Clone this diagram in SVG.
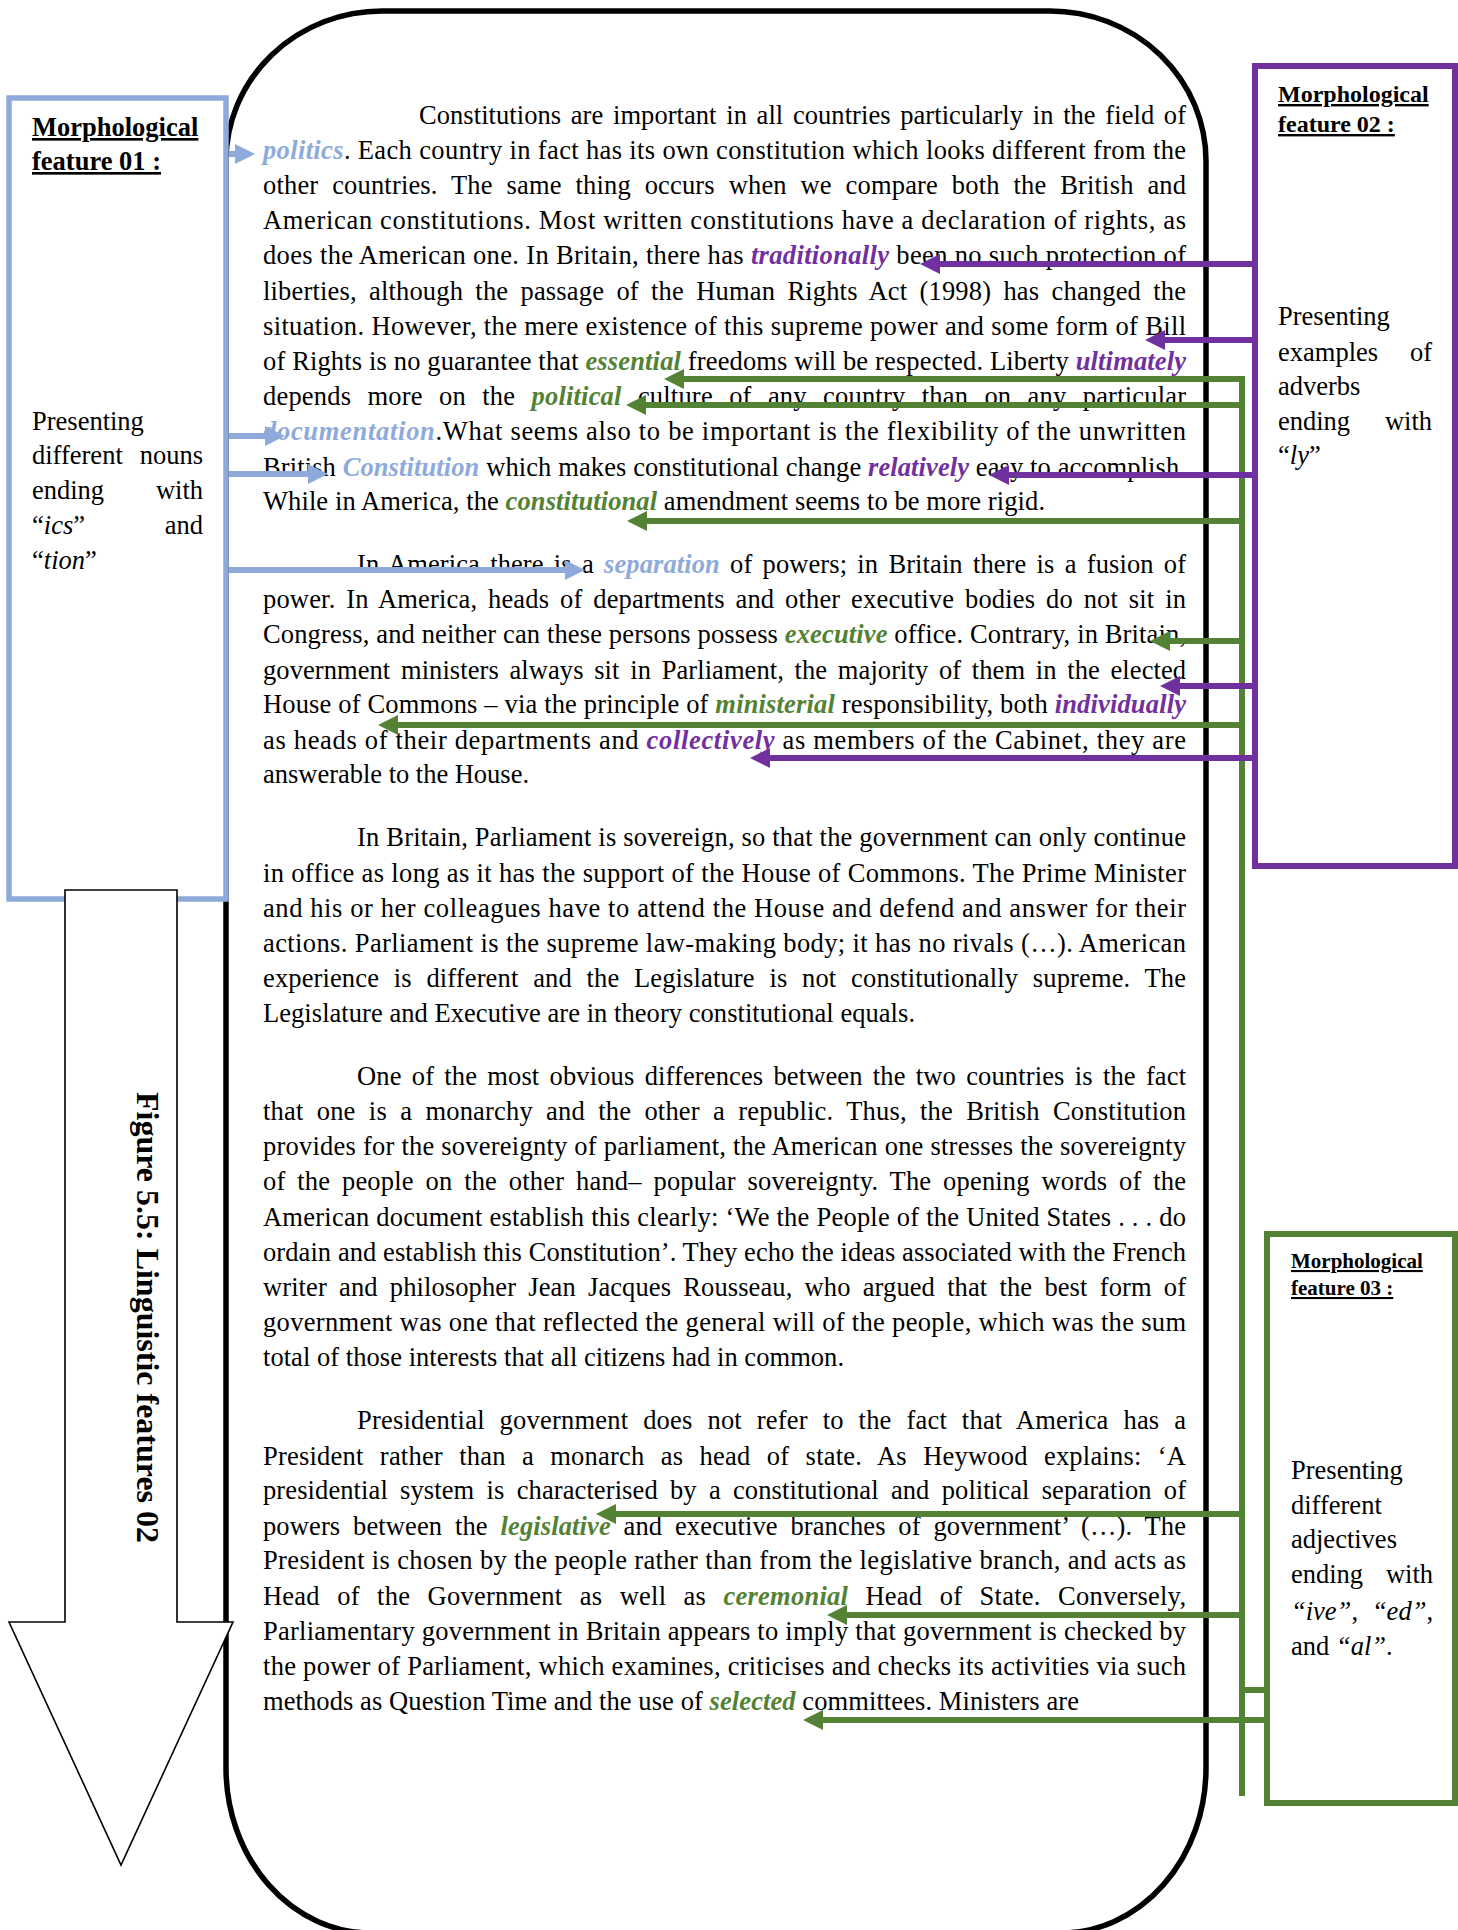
<svg xmlns="http://www.w3.org/2000/svg" width="1458" height="1930" viewBox="0 0 1458 1930">
  <style>
    .t { font-family: "Liberation Serif", "Times New Roman", serif; font-size: 26.5px; fill: #000; }
    .hb { font-style: italic; font-weight: bold; fill: #8EAADB; }
    .hp { font-style: italic; font-weight: bold; fill: #7030A0; }
    .hg { font-style: italic; font-weight: bold; fill: #548235; }
    .it { font-style: italic; }
    .cap { font-weight: bold; text-decoration: underline; }
    .s24 { font-size: 24px; }
    .s21 { font-size: 21px; }
    .fig { font-weight: bold; font-size: 32px; }
    .frame { fill: none; stroke: #000; stroke-width: 5.5; }
    .cb { stroke: #8EAADB; stroke-width: 6; fill: none; }
    .cp { stroke: #7030A0; stroke-width: 6; fill: none; }
    .cg { stroke: #548235; stroke-width: 6; fill: none; }
  </style>
  <defs>
    <marker id="ab" markerUnits="userSpaceOnUse" viewBox="0 0 20 20" markerWidth="20" markerHeight="20" refX="2" refY="10" orient="auto">
      <path d="M0,0 L20,10 L0,20 Z" fill="#8EAADB"/>
    </marker>
    <marker id="ap" markerUnits="userSpaceOnUse" viewBox="0 0 20 20" markerWidth="20" markerHeight="20" refX="2" refY="10" orient="auto">
      <path d="M0,0 L20,10 L0,20 Z" fill="#7030A0"/>
    </marker>
    <marker id="ag" markerUnits="userSpaceOnUse" viewBox="0 0 20 20" markerWidth="20" markerHeight="20" refX="2" refY="10" orient="auto">
      <path d="M0,0 L20,10 L0,20 Z" fill="#548235"/>
    </marker>
  </defs>
  <rect width="1458" height="1930" fill="#fff"/>

  <!-- rounded frame around the passage -->
  <g id="text-frame">
    <path class="frame" d="M382,11 H1050 A156 150 0 0 1 1206 161 V1768 A145 165 0 0 1 1061 1933 H371 A145 165 0 0 1 226 1768 V161 A156 150 0 0 1 382 11 Z"/>
  </g>

  <!-- feature 01 box (nouns) -->
  <g id="feature-01">
    <rect x="9" y="98" width="217" height="801" fill="#fff" stroke="#8EAADB" stroke-width="5.5"/>
    <text class="t cap" x="32" y="136">Morphological</text>
    <text class="t cap" x="32" y="170">feature 01 :</text>
    <text class="t" x="32" y="430">Presenting</text>
    <text class="t" x="32" y="464">different</text>
    <text class="t" x="203" y="464" text-anchor="end">nouns</text>
    <text class="t" x="32" y="499">ending</text>
    <text class="t" x="203" y="499" text-anchor="end">with</text>
    <text class="t" x="32" y="534">“<tspan class="it">ics</tspan>”</text>
    <text class="t" x="203" y="534" text-anchor="end">and</text>
    <text class="t" x="32" y="569">“<tspan class="it">tion</tspan>”</text>
  </g>

  <!-- figure caption arrow -->
  <g id="caption-arrow">
    <polygon points="65,890 177,890 177,1622 233,1622 121,1865 9,1622 65,1622" fill="#fff" stroke="#000" stroke-width="1.6"/>
    <text class="t fig" transform="translate(137,1092) rotate(90)" textLength="451" lengthAdjust="spacingAndGlyphs">Figure 5.5: Linguistic features 02</text>
  </g>

  <!-- feature 02 box (adverbs) -->
  <g id="feature-02">
    <rect x="1255" y="66" width="200" height="800" fill="#fff" stroke="#7030A0" stroke-width="6"/>
    <text class="t cap s24" x="1278" y="102">Morphological</text>
    <text class="t cap s24" x="1278" y="132">feature 02 :</text>
    <text class="t" x="1278" y="325">Presenting</text>
    <text class="t" x="1278" y="361">examples</text>
    <text class="t" x="1432" y="361" text-anchor="end">of</text>
    <text class="t" x="1278" y="395">adverbs</text>
    <text class="t" x="1278" y="430">ending</text>
    <text class="t" x="1432" y="430" text-anchor="end">with</text>
    <text class="t" x="1278" y="464">“<tspan class="it">ly</tspan>”</text>
  </g>

  <!-- feature 03 box (adjectives) -->
  <g id="feature-03">
    <rect x="1267" y="1234" width="188" height="569" fill="#fff" stroke="#548235" stroke-width="6"/>
    <text class="t cap s21" x="1291" y="1268">Morphological</text>
    <text class="t cap s21" x="1291" y="1295">feature 03 :</text>
    <text class="t" x="1291" y="1479">Presenting</text>
    <text class="t" x="1291" y="1514">different</text>
    <text class="t" x="1291" y="1548">adjectives</text>
    <text class="t" x="1291" y="1583">ending</text>
    <text class="t" x="1433" y="1583" text-anchor="end">with</text>
    <text class="t" x="1291" y="1620"><tspan class="it">“ive”</tspan>,</text>
    <text class="t" x="1433" y="1620" text-anchor="end"><tspan class="it">“ed”</tspan>,</text>
    <text class="t" x="1291" y="1655">and <tspan class="it">“al”</tspan>.</text>
  </g>

  <!-- passage (justified lines: word-spacing first, textLength settles the rest) -->
  <g id="passage" class="t">
    <text x="419" y="124" textLength="767" lengthAdjust="spacing" style="word-spacing:3px">Constitutions are important in all countries particularly in the field of</text>
    <text x="263" y="159" textLength="923" lengthAdjust="spacing"><tspan class="hb">politics</tspan>. Each country in fact has its own constitution which looks different from the</text>
    <text x="263" y="194" textLength="923" lengthAdjust="spacing" style="word-spacing:7px">other countries. The same thing occurs when we compare both the British and</text>
    <text x="263" y="229" textLength="923" lengthAdjust="spacing">American constitutions. Most written constitutions have a declaration of rights, as</text>
    <text x="263" y="264" textLength="923" lengthAdjust="spacing">does the American one. In Britain, there has <tspan class="hp">traditionally</tspan> been no such protection of</text>
    <text x="263" y="300" textLength="923" lengthAdjust="spacing" style="word-spacing:5.5px">liberties, although the passage of the Human Rights Act (1998) has changed the</text>
    <text x="263" y="335" textLength="923" lengthAdjust="spacing">situation. However, the mere existence of this supreme power and some form of Bill</text>
    <text x="263" y="370" textLength="923" lengthAdjust="spacing">of Rights is no guarantee that <tspan class="hg">essential</tspan> freedoms will be respected. Liberty <tspan class="hp">ultimately</tspan></text>
    <text x="263" y="405" textLength="923" lengthAdjust="spacing" style="word-spacing:9.5px">depends more on the <tspan class="hg">political</tspan> culture of any country than on any particular</text>
    <text x="263" y="440" textLength="923" lengthAdjust="spacing"><tspan class="hb">documentation</tspan>.What seems also to be important is the flexibility of the unwritten</text>
    <text x="263" y="476" textLength="923" lengthAdjust="spacing">British <tspan class="hb">Constitution</tspan> which makes constitutional change <tspan class="hp">relatively</tspan> easy to accomplish.</text>
    <text x="263" y="510" textLength="782" lengthAdjust="spacing">While in America, the <tspan class="hg">constitutional</tspan> amendment seems to be more rigid.</text>

    <text x="357" y="573" textLength="829" lengthAdjust="spacing" style="word-spacing:3.5px">In America there is a <tspan class="hb">separation</tspan> of powers; in Britain there is a fusion of</text>
    <text x="263" y="608" textLength="923" lengthAdjust="spacing" style="word-spacing:4px">power. In America, heads of departments and other executive bodies do not sit in</text>
    <text x="263" y="643" textLength="923" lengthAdjust="spacing">Congress, and neither can these persons possess <tspan class="hg">executive</tspan> office. Contrary, in Britain,</text>
    <text x="263" y="679" textLength="923" lengthAdjust="spacing" style="word-spacing:4px">government ministers always sit in Parliament, the majority of them in the elected</text>
    <text x="263" y="713" textLength="923" lengthAdjust="spacing">House of Commons – via the principle of <tspan class="hg">ministerial</tspan> responsibility, both <tspan class="hp">individually</tspan></text>
    <text x="263" y="749" textLength="923" lengthAdjust="spacing">as heads of their departments and <tspan class="hp">collectively</tspan> as members of the Cabinet, they are</text>
    <text x="263" y="783" textLength="266" lengthAdjust="spacing">answerable to the House.</text>

    <text x="357" y="846" textLength="829" lengthAdjust="spacing">In Britain, Parliament is sovereign, so that the government can only continue</text>
    <text x="263" y="882" textLength="923" lengthAdjust="spacing">in office as long as it has the support of the House of Commons. The Prime Minister</text>
    <text x="263" y="917" textLength="923" lengthAdjust="spacing">and his or her colleagues have to attend the House and defend and answer for their</text>
    <text x="263" y="952" textLength="923" lengthAdjust="spacing">actions. Parliament is the supreme law-making body; it has no rivals (…). American</text>
    <text x="263" y="987" textLength="923" lengthAdjust="spacing" style="word-spacing:8px">experience is different and the Legislature is not constitutionally supreme. The</text>
    <text x="263" y="1022" textLength="652" lengthAdjust="spacing">Legislature and Executive are in theory constitutional equals.</text>

    <text x="357" y="1085" textLength="829" lengthAdjust="spacing" style="word-spacing:3.5px">One of the most obvious differences between the two countries is the fact</text>
    <text x="263" y="1120" textLength="923" lengthAdjust="spacing" style="word-spacing:6.5px">that one is a monarchy and the other a republic. Thus, the British Constitution</text>
    <text x="263" y="1155" textLength="923" lengthAdjust="spacing">provides for the sovereignty of parliament, the American one stresses the sovereignty</text>
    <text x="263" y="1190" textLength="923" lengthAdjust="spacing" style="word-spacing:5px">of the people on the other hand– popular sovereignty. The opening words of the</text>
    <text x="263" y="1226" textLength="923" lengthAdjust="spacing">American document establish this clearly: ‘We the People of the United States . . . do</text>
    <text x="263" y="1261" textLength="923" lengthAdjust="spacing">ordain and establish this Constitution’. They echo the ideas associated with the French</text>
    <text x="263" y="1296" textLength="923" lengthAdjust="spacing" style="word-spacing:5.5px">writer and philosopher Jean Jacques Rousseau, who argued that the best form of</text>
    <text x="263" y="1331" textLength="923" lengthAdjust="spacing">government was one that reflected the general will of the people, which was the sum</text>
    <text x="263" y="1366" textLength="581" lengthAdjust="spacing">total of those interests that all citizens had in common.</text>

    <text x="357" y="1429" textLength="829" lengthAdjust="spacing" style="word-spacing:8px">Presidential government does not refer to the fact that America has a</text>
    <text x="263" y="1465" textLength="923" lengthAdjust="spacing" style="word-spacing:9.5px">President rather than a monarch as head of state. As Heywood explains: ‘A</text>
    <text x="263" y="1499" textLength="923" lengthAdjust="spacing" style="word-spacing:5.5px">presidential system is characterised by a constitutional and political separation of</text>
    <text x="263" y="1535" textLength="923" lengthAdjust="spacing" style="word-spacing:6px">powers between the <tspan class="hg">legislative</tspan> and executive branches of government’ (…). The</text>
    <text x="263" y="1569" textLength="923" lengthAdjust="spacing">President is chosen by the people rather than from the legislative branch, and acts as</text>
    <text x="263" y="1605" textLength="923" lengthAdjust="spacing" style="word-spacing:10.5px">Head of the Government as well as <tspan class="hg">ceremonial</tspan> Head of State. Conversely,</text>
    <text x="263" y="1640" textLength="923" lengthAdjust="spacing">Parliamentary government in Britain appears to imply that government is checked by</text>
    <text x="263" y="1675" textLength="923" lengthAdjust="spacing">the power of Parliament, which examines, criticises and checks its activities via such</text>
    <text x="263" y="1710" textLength="816" lengthAdjust="spacing">methods as Question Time and the use of <tspan class="hg">selected</tspan> committees. Ministers are</text>
  </g>

  <!-- connectors -->
  <g id="connectors">
    <!-- nouns -->
    <line class="cb" x1="229" y1="154" x2="237" y2="154" marker-end="url(#ab)"/>
    <line class="cb" x1="229" y1="436" x2="267" y2="436" marker-end="url(#ab)"/>
    <line class="cb" x1="229" y1="474" x2="310" y2="474" marker-end="url(#ab)"/>
    <line class="cb" x1="229" y1="570" x2="567" y2="570" marker-end="url(#ab)"/>
    <!-- adjectives -->
    <line class="cg" x1="1242" y1="376" x2="1242" y2="1796"/>
    <line class="cg" x1="1242" y1="1690" x2="1267" y2="1690"/>
    <line class="cg" x1="1245" y1="379" x2="682" y2="379" marker-end="url(#ag)"/>
    <line class="cg" x1="1245" y1="405" x2="644" y2="405" marker-end="url(#ag)"/>
    <line class="cg" x1="1245" y1="521" x2="645" y2="521" marker-end="url(#ag)"/>
    <line class="cg" x1="1245" y1="641" x2="1168" y2="641" marker-end="url(#ag)"/>
    <line class="cg" x1="1245" y1="725" x2="396" y2="725" marker-end="url(#ag)"/>
    <line class="cg" x1="1245" y1="1514" x2="614" y2="1514" marker-end="url(#ag)"/>
    <line class="cg" x1="1245" y1="1615" x2="845" y2="1615" marker-end="url(#ag)"/>
    <line class="cg" x1="1267" y1="1720" x2="821" y2="1720" marker-end="url(#ag)"/>
    <!-- adverbs -->
    <line class="cp" x1="1255" y1="264" x2="938" y2="264" marker-end="url(#ap)"/>
    <line class="cp" x1="1255" y1="340" x2="1163" y2="340" marker-end="url(#ap)"/>
    <line class="cp" x1="1255" y1="475" x2="1007" y2="475" marker-end="url(#ap)"/>
    <line class="cp" x1="1255" y1="686" x2="1178" y2="686" marker-end="url(#ap)"/>
    <line class="cp" x1="1255" y1="758" x2="768" y2="758" marker-end="url(#ap)"/>
  </g>
</svg>
